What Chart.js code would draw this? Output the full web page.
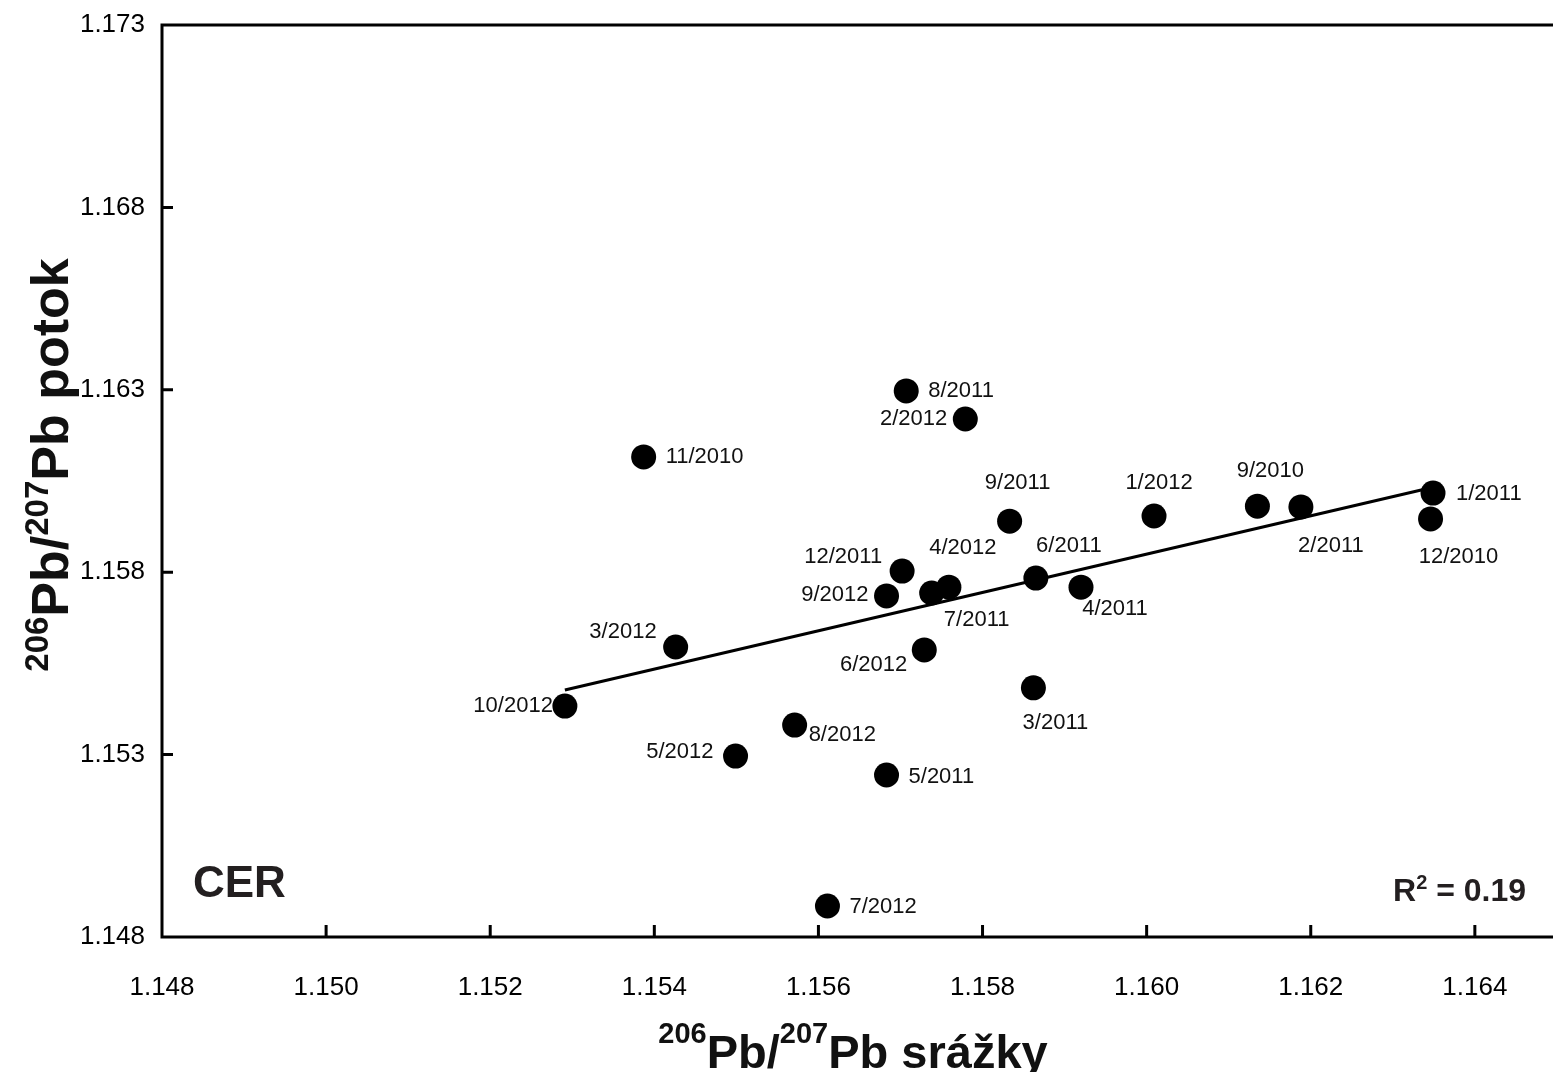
<!DOCTYPE html>
<html>
<head>
<meta charset="utf-8">
<script src="https://cdn.jsdelivr.net/npm/chart.js@4.4.1/dist/chart.umd.min.js"></script>
<style>
  html, body { margin: 0; padding: 0; background: #fff; overflow: hidden; }
  canvas { display: block; }
</style>
</head>
<body>
<canvas id="pbChart" width="1553" height="1072"></canvas>
<script>
// sampling months
const months = ['11/2010', '8/2011', '2/2012', '9/2011', '1/2012', '9/2010', '2/2011', '1/2011',
    '12/2010', '12/2011', '9/2012', '7/2011', '4/2012', '6/2011', '4/2011', '3/2012',
    '6/2012', '3/2011', '10/2012', '8/2012', '5/2012', '5/2011', '7/2012'];
// 206Pb/207Pb precipitation (x)
const srazky = [1.15387, 1.15707, 1.15779, 1.15833, 1.16009, 1.16135, 1.16188, 1.16349,
    1.16346, 1.15702, 1.15683, 1.15738, 1.15759, 1.15865, 1.15920, 1.15426,
    1.15729, 1.15862, 1.15291, 1.15571, 1.15499, 1.15683, 1.15611];
// 206Pb/207Pb stream (y)
const potok = [1.16116, 1.16297, 1.16220, 1.15940, 1.15954, 1.15981, 1.15979, 1.16017,
    1.15946, 1.15803, 1.15735, 1.15743, 1.15759, 1.15784, 1.15759, 1.15595,
    1.15587, 1.15483, 1.15433, 1.15381, 1.15296, 1.15244, 1.14885];
// linear trend end points
const trendX = [1.15291, 1.16349];
const trendY = [1.15477, 1.16033];
// tick labels
const xTicks = [1.148, 1.150, 1.152, 1.154, 1.156, 1.158, 1.160, 1.162, 1.164];
const yTicks = [1.148, 1.153, 1.158, 1.163, 1.168, 1.173];

// where each month label sits relative to its dot: [dx, dy, align]
const labelPlace = [[22, 0, 'left'], [22, 0, 'left'], [-18, 0, 'right'], [8, -38, 'center'],
    [5, -33, 'center'], [13, -35, 'center'], [30, 39, 'center'], [23, 1, 'left'],
    [28, 38, 'center'], [-20, -14, 'right'], [-18, -1, 'right'], [45, 27, 'center'],
    [14, -39, 'center'], [33, -32, 'center'], [34, 22, 'center'], [-19, -15, 'right'],
    [-17, 15, 'right'], [22, 35, 'center'], [-12, 0, 'right'], [14, 10, 'left'],
    [-22, -4, 'right'], [22, 2, 'left'], [22, 1, 'left']];

const FONT = '"Liberation Sans", Arial, sans-serif';

// draw text with superscript pieces, centred on x
function drawSupText(ctx, parts, x, y, size, supSize, supRise) {
    let total = 0;
    parts.forEach(p => {
        ctx.font = 'bold ' + (p.sup ? supSize : size) + 'px ' + FONT;
        p.w = ctx.measureText(p.t).width;
        total += p.w;
    });
    let cx = x - total / 2;
    ctx.textAlign = 'left';
    ctx.textBaseline = 'alphabetic';
    parts.forEach(p => {
        ctx.font = 'bold ' + (p.sup ? supSize : size) + 'px ' + FONT;
        ctx.fillText(p.t, cx, p.sup ? y - supRise : y);
        cx += p.w;
    });
}

function noPad(s) {
    s.paddingLeft = 0;
    s.paddingRight = 0;
    s.paddingTop = 0;
    s.paddingBottom = 0;
}

const framePlugin = {
    id: 'frame',
    afterDatasetsDraw(chart) {
        const ctx = chart.ctx;
        const area = chart.chartArea;
        const xs = chart.scales.x, ys = chart.scales.y;
        ctx.save();
        ctx.strokeStyle = '#000';
        ctx.lineWidth = 3;
        ctx.beginPath();
        // frame runs off the right edge like the original
        ctx.moveTo(area.left, area.top);
        ctx.lineTo(chart.width, area.top);
        ctx.moveTo(area.left, area.top - 1.5);
        ctx.lineTo(area.left, area.bottom);
        ctx.lineTo(chart.width, area.bottom);
        // inward ticks
        xTicks.forEach(v => {
            const px = xs.getPixelForValue(v);
            ctx.moveTo(px, area.bottom);
            ctx.lineTo(px, area.bottom - 12);
        });
        yTicks.forEach(v => {
            const py = ys.getPixelForValue(v);
            ctx.moveTo(area.left, py);
            ctx.lineTo(area.left + 11, py);
        });
        ctx.stroke();

        // month labels
        const meta = chart.getDatasetMeta(0);
        ctx.fillStyle = '#111';
        ctx.font = '22px ' + FONT;
        ctx.textBaseline = 'middle';
        meta.data.forEach((pt, i) => {
            const pl = labelPlace[i];
            ctx.textAlign = pl[2];
            ctx.fillText(months[i], pt.x + pl[0], pt.y + pl[1]);
        });

        // site and fit text
        ctx.fillStyle = '#231f20';
        ctx.textAlign = 'left';
        ctx.textBaseline = 'alphabetic';
        ctx.font = 'bold 44px ' + FONT;
        ctx.fillText('CER', 193, 897);
        ctx.textAlign = 'right';
        ctx.font = 'bold 32px ' + FONT;
        const rest = ' = 0.19';
        const wRest = ctx.measureText(rest).width;
        ctx.fillText(rest, 1526, 901);
        ctx.font = 'bold 20px ' + FONT;
        const w2 = ctx.measureText('2').width;
        ctx.fillText('2', 1526 - wRest, 889);
        ctx.font = 'bold 32px ' + FONT;
        ctx.fillText('R', 1526 - wRest - w2, 901);

        // axis titles
        ctx.fillStyle = '#111';
        drawSupText(ctx, [{t: '206', sup: true}, {t: 'Pb/'}, {t: '207', sup: true}, {t: 'Pb srážky'}],
            853, 1068, 47, 29, 25);
        ctx.translate(68, 465);
        ctx.rotate(-Math.PI / 2);
        drawSupText(ctx, [{t: '206', sup: true}, {t: 'Pb/'}, {t: '207', sup: true}, {t: 'Pb potok'}],
            0, 0, 52, 33, 20);
        ctx.restore();
    }
};

const points = months.map((m, i) => ({x: srazky[i], y: potok[i]}));
const trend = trendX.map((v, i) => ({x: v, y: trendY[i]}));

new Chart(document.getElementById('pbChart'), {
    type: 'scatter',
    data: {
        datasets: [{
            label: 'months',
            data: points,
            backgroundColor: '#000',
            borderColor: '#000',
            borderWidth: 0,
            pointRadius: 12.5,
            pointHoverRadius: 12.5
        }, {
            label: 'trend',
            data: trend,
            showLine: true,
            borderColor: '#000',
            borderWidth: 3,
            pointRadius: 0
        }]
    },
    options: {
        responsive: false,
        animation: false,
        devicePixelRatio: 1,
        layout: {padding: {top: 25, left: 0, right: 0, bottom: 0}},
        plugins: {legend: {display: false}, tooltip: {enabled: false}},
        scales: {
            x: {
                type: 'linear',
                min: 1.148,
                max: 1.1648,
                afterBuildTicks: s => { s.ticks = xTicks.map(v => ({value: v})); },
                afterFit: s => { s.height = 135; noPad(s); },
                grid: {display: false, drawTicks: false},
                border: {display: false},
                ticks: {
                    padding: 35,
                    color: '#000',
                    font: {family: FONT, size: 26},
                    callback: v => v.toFixed(3)
                }
            },
            y: {
                type: 'linear',
                min: 1.148,
                max: 1.173,
                afterBuildTicks: s => { s.ticks = yTicks.map(v => ({value: v})); },
                afterFit: s => { s.width = 162; noPad(s); },
                grid: {display: false, drawTicks: false},
                border: {display: false},
                ticks: {
                    padding: 17,
                    color: '#000',
                    font: {family: FONT, size: 26},
                    callback: v => v.toFixed(3)
                }
            }
        }
    },
    plugins: [framePlugin]
});
</script>
</body>
</html>
